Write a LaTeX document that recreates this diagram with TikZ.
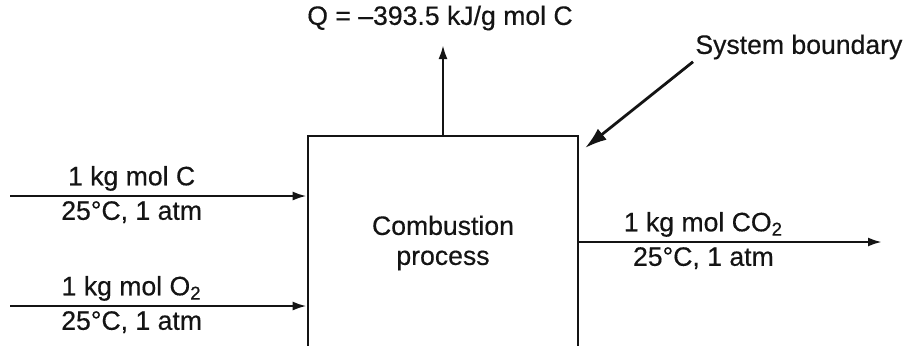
\documentclass[tikz,border=0pt]{standalone}
\usepackage{fontspec}
\setmainfont{Liberation Sans}
\newfontfamily\labelfont{Liberation Sans}[FakeBold=0.4]
\usetikzlibrary{positioning, calc, arrows.meta}
\definecolor{Ink}{HTML}{141414}
\definecolor{Paper}{HTML}{FFFFFF}
\tikzset{
    flowline/.style={-{Latex[length=7pt, width=4.5pt]}, line width=1.2pt, color=Ink},
    pointer/.style={-{Latex[length=11pt, width=7pt]}, line width=1.4pt, color=Ink},
    boundary/.style={rectangle, draw=Ink, line width=1.3pt, minimum width=135pt, minimum height=150pt},
    streamlabel/.style={font=\labelfont\fontsize{13.3}{15}\selectfont, text=Ink, inner sep=1pt},
}

\begin{document}
\begin{tikzpicture}[x=0.5pt, y=-0.5pt]
    % Cornice (la scatola esce dal bordo inferiore)
    \path[use as bounding box, clip] (0,0) rectangle (906,345);
    \fill[Paper] (0,0) rectangle (906,345);

    % --- 1. SYSTEM BOX ---
    \node[boundary] (box) at (443,286) {};
    \node[streamlabel, align=center] (proc) at (443,243) {Combustion\\process};

    % --- 2. HEAT ---
    \coordinate (qtip) at (443,45);
    \draw[flowline] (box.north) -- (qtip);
    \node[streamlabel] (heat) at (440,18) {Q = \textendash393.5 kJ/g mol C};

    % --- 3. INLETS ---
    \coordinate (cin) at (10,196);
    \draw[flowline] (cin) -- (cin -| box.west)
        node[streamlabel, above=1pt, pos=0.41] (cinA) {1 kg mol C}
        node[streamlabel, below=1pt, pos=0.41] (cinB) {25°C, 1 atm};

    \coordinate (oin) at (10,306);
    \draw[flowline] (oin) -- (oin -| box.west)
        node[streamlabel, above=1pt, pos=0.41] (oinA) {1 kg mol O\textsubscript{2}}
        node[streamlabel, below=1pt, pos=0.41] (oinB) {25°C, 1 atm};

    % --- 4. OUTLET ---
    \coordinate (cout) at (882,242);
    \draw[flowline] (cout -| box.east) -- (cout)
        node[streamlabel, above=1pt, pos=0.41] (coutA) {1 kg mol CO\textsubscript{2}}
        node[streamlabel, below=1pt, pos=0.41] (coutB) {25°C, 1 atm};

    % --- 5. BOUNDARY POINTER ---
    \node[streamlabel, anchor=west] (sysb) at (693,47) {System boundary};
    \coordinate (btip) at (585,148);
    \draw[pointer] (sysb.south west) -- (btip);
\end{tikzpicture}
\end{document}
